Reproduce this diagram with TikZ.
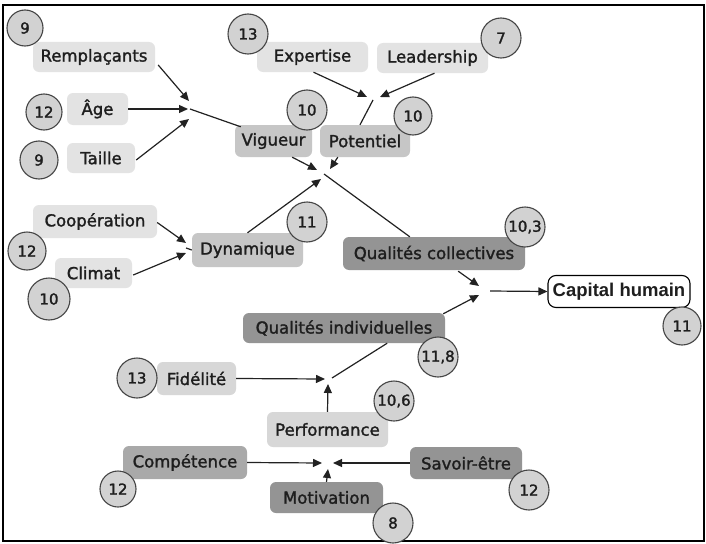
\documentclass[tikz,border=0pt]{standalone}
\usepackage{fontspec}
\setmainfont{DejaVu Sans}
\newfontface\boxfont{DejaVu Sans}[FakeBold=1.6]
\newfontface\numfont{DejaVu Sans}[FakeBold=1.8]
\newfontfamily\capfont{Liberation Sans}
\usetikzlibrary{arrows.meta,calc}

\definecolor{boxlight}{HTML}{E3E3E3}
\definecolor{boxsoft}{HTML}{D7D7D7}
\definecolor{boxmid}{HTML}{C6C6C6}
\definecolor{boxcomp}{HTML}{A9A9A9}
\definecolor{boxdark}{HTML}{949494}
\definecolor{ringfill}{HTML}{D2D2D2}
\definecolor{ringline}{HTML}{454545}
\definecolor{edge}{HTML}{222222}
\definecolor{ink}{HTML}{1E1E1E}

\begin{document}
\begin{tikzpicture}[x=1pt,y=-1pt,
  box/.style={rounded corners=6pt, inner sep=0pt, text=ink,
    font=\boxfont\fontsize{16.5}{18}\selectfont},
  sz/.style 2 args={minimum width=#1pt, minimum height=#2pt},
  lbox/.style={box, fill=boxlight},
  sbox/.style={box, fill=boxsoft},
  mbox/.style={box, fill=boxmid},
  cbox/.style={box, fill=boxcomp},
  dbox/.style={box, fill=boxdark},
  goal/.style={box, rounded corners=8pt, fill=white, draw=black, line width=1.1pt,
    font=\capfont\bfseries\fontsize{18.5}{20}\selectfont},
  num/.style={circle, draw=ringline, line width=1.1pt, fill=ringfill, inner sep=0pt,
    text=ink, font=\numfont\fontsize{15}{17}\selectfont, minimum size=#1pt},
  arr/.style={draw=edge, line width=1.2pt, -{Triangle[length=9pt,width=8pt]}},
  ln/.style={draw=edge, line width=1.2pt}]

\useasboundingbox (0,0) rectangle (706,543);
\fill[white] (0,0) rectangle (706,543);
\draw[line width=1.8pt] (3,5) rectangle (704,541);

% boxes
\node[lbox, sz={122}{30}] (rem)  at (94,57)     {Remplaçants};
\node[lbox, sz={61}{32}]  (age)  at (97.5,109)  {Âge};
\node[lbox, sz={68}{30}]  (tai)  at (101,158)   {Taille};
\node[lbox, sz={111}{30}] (exp)  at (312.5,57)  {Expertise};
\node[lbox, sz={111}{30}] (lea)  at (432.5,58)  {Leadership};
\node[mbox, sz={77}{32}]  (vig)  at (273.5,141) {Vigueur};
\node[mbox, sz={90}{32}]  (pot)  at (365,141)   {Potentiel};
\node[lbox, sz={124}{33}] (coo)  at (95,221.5)  {Coopération};
\node[lbox, sz={77}{30}]  (cli)  at (93.5,273)  {Climat};
\node[mbox, sz={111}{34}] (dyn)  at (247.5,250) {Dynamique};
\node[dbox, sz={182}{33}] (qc)   at (434,253.5) {Qualités collectives};
\node[goal, sz={142}{32}] (cap)  at (619,291.5) {Capital humain};
\node[dbox, sz={202}{30}] (qi)   at (344,328)   {Qualités individuelles};
\node[sbox, sz={79}{33}]  (fid)  at (196.5,378.5) {Fidélité};
\node[sbox, sz={121}{35}] (perf) at (327.5,429.5) {Performance};
\node[cbox, sz={124}{33}] (comp) at (185,462.5) {Compétence};
\node[dbox, sz={112}{32}] (sav)  at (466,463)   {Savoir-être};
\node[dbox, sz={113}{31}] (mot)  at (326.5,497.5) {Motivation};

% junction points
\coordinate (j1) at (190,109);
\coordinate (j2) at (373,100);
\coordinate (j3) at (324,174);
\coordinate (j4) at (186,248);
\coordinate (j5) at (480,290);
\coordinate (j6) at (329,379);
\coordinate (j7) at (327,463);

% Vigueur
\draw[arr] ($(rem.east)+(3,8)$) -- ($(j1)+(-1,-8)$);
\draw[arr] (age.east) -- ($(j1)+(-2,0)$);
\draw[arr] ($(tai.east)+(1,2)$) -- ($(j1)+(-1,10)$);
\draw[ln] (j1) -- ($(vig.north west)+(6,2)$);

% Potentiel
\draw[arr] ($(exp.south)+(1,0)$) -- ($(j2)+(-6,-3)$);
\draw[arr] ($(lea.south)+(2,0)$) -- ($(j2)+(7,-3)$);
\draw[ln] (j2) -- ($(pot.north)+(-5,0)$);

% Dynamique
\draw[arr] ($(coo.east)+(0,1)$) -- ($(j4)+(0,-5)$);
\draw[arr] ($(cli.east)+(1,2)$) -- ($(j4)+(0,5)$);
\draw[ln] (j4) -- (dyn.west);

% Qualités collectives
\draw[arr] ($(vig.south east)+(-20,0)$) -- ($(j3)+(-7,-4)$);
\draw[arr] ($(pot.south west)+(18,0)$) -- ($(j3)+(6,-5)$);
\draw[arr] (dyn.north) -- ($(j3)+(-3,5)$);
\draw[ln] (j3) -- ($(qc.north west)+(67,0)$);

% Capital humain
\draw[arr] ($(qc.south east)+(-67,1)$) -- ($(j5)+(-1,-4)$);
\draw[arr] ($(qi.north east)+(-2,1)$) -- ($(j5)+(-1,5)$);
\draw[arr] ($(j5)+(10,1)$) -- (cap.west);

% Qualités individuelles
\draw[arr] (fid.east) -- ($(j6)+(-4,0)$);
\draw[arr] (perf.north) -- ($(j6)+(-1,5)$);
\draw[ln] ($(j6)+(3,-1)$) -- ($(qi.south east)+(-58,0)$);

% Performance
\draw[arr] (comp.east) -- ($(j7)+(-5,0)$);
\draw[arr] (sav.west) -- ($(j7)+(6,0)$);
\draw[arr] (mot.north) -- ($(j7)+(1,6)$);

% scores
\node[num=36] (rem-n)  at (25,28)   {9};
\node[num=36] (age-n)  at (44,112)  {12};
\node[num=38] (tai-n)  at (39,160)  {9};
\node[num=40] (exp-n)  at (248,34)  {13};
\node[num=40] (lea-n)  at (501,38)  {7};
\node[num=40] (vig-n)  at (307,110) {10};
\node[num=38] (pot-n)  at (413,116) {10};
\node[num=38] (coo-n)  at (27,251)  {12};
\node[num=42] (cli-n)  at (49,299)  {10};
\node[num=40] (dyn-n)  at (307,222) {11};
\node[num=40] (qc-n)   at (525,227) {10,3};
\node[num=38] (cap-n)  at (682,326) {11};
\node[num=40] (qi-n)   at (438,357) {11,8};
\node[num=40] (perf-n) at (394,401) {10,6};
\node[num=40] (fid-n)  at (137,378) {13};
\node[num=36] (comp-n) at (118,489) {12};
\node[num=40] (sav-n)  at (529,490) {12};
\node[num=40] (mot-n)  at (393,523) {8};
\end{tikzpicture}
\end{document}
